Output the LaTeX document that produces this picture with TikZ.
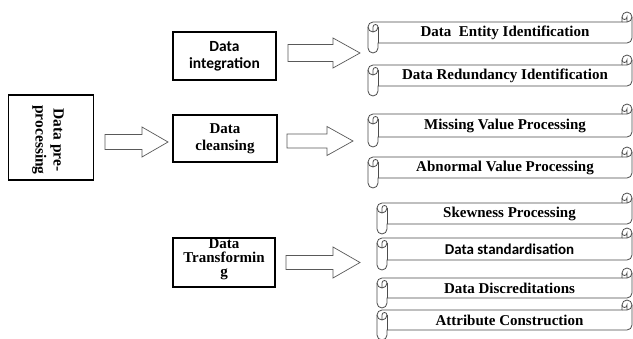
\documentclass[tikz,border=0pt]{standalone}
\usepackage{fontspec}
\setmainfont{Liberation Serif}
\newfontfamily\calib{Carlito}
\newcommand\myscroll[6]{%
\begin{scope}[shift={(#2,#3)}]
\filldraw[scrollline, fill=white] (0,15) arc[start angle=180,end angle=270,radius=5] -- (#4-10,10) -- (#4-10,5) arc[start angle=180,end angle=360,radius=5] -- (#4,#5-15) arc[start angle=0,end angle=90,radius=5] -- (10,#5-10) -- (10,#5-5) arc[start angle=0,end angle=180,radius=5] -- cycle;
\draw[scrollline] (#4-10,10) -- (#4-5,10) arc[start angle=90,end angle=0,radius=5];
\draw[scrollline] (#4-5,10) -- (#4-5,5) arc[start angle=0,end angle=180,radius=2.5];
\draw[scrollline] (5,20) -- (5,15) arc[start angle=180,end angle=360,radius=2.5] arc[start angle=0,end angle=180,radius=5];
\draw[scrollline] (10,15) -- (10,#5-10);
\node[scrolltext] (#1) at ({(10+#4)/2},{#5/2}) {#6};
\end{scope}}
\newcommand\blockarrow[6]{%
\draw[barrow] (#1,#4-#5) -- (#2,#4-#5) -- (#2,#4-#6) -- (#3,#4) -- (#2,#4+#6) -- (#2,#4+#5) -- (#1,#4+#5) -- cycle;}
\begin{document}
\begin{tikzpicture}[x=1pt,y=-1pt,
  scrollline/.style={draw=black!70, line width=0.8pt},
  scrolltext/.style={font=\bfseries\fontsize{15}{17}\selectfont, inner sep=0pt},
  barrow/.style={draw=black!65, line width=0.7pt, fill=white},
  mainbox/.style={draw=black, line width=1.8pt, fill=white, inner sep=0pt},
  boxtext/.style={font=\bfseries\fontsize{15}{17}\selectfont, align=center, inner sep=0pt}]
\useasboundingbox[fill=white] (0,0) rectangle (633,338);

% left box
\node[mainbox, minimum width=85, minimum height=85] (pre) at (51,137.5) {};
\node[boxtext, rotate=-90, font=\bfseries\fontsize{15.5}{18}\selectfont] (pretext) at (48,140) {Data pre-\\processing};

% middle boxes
\node[mainbox, minimum width=103, minimum height=48] (integ) at (224.5,56) {};
\node[boxtext, font=\calib\bfseries\fontsize{15.5}{17}\selectfont] (integtext) at (224.5,56.5) {Data\\integration};
\node[mainbox, minimum width=104, minimum height=47] (clean) at (225,138.5) {};
\node[boxtext] (cleantext) at (225,138.5) {Data\\cleansing};
\node[mainbox, minimum width=102, minimum height=49] (trans) at (224,262.5) {};
\node[boxtext, font=\bfseries\fontsize{15}{14}\selectfont] (transtext) at (224,259) {Data\\Transformin\\g};

% block arrows
\blockarrow{105}{142}{168}{142}{7.5}{15}
\blockarrow{288}{333}{360}{53}{8.5}{15}
\blockarrow{287}{327}{353}{141}{7}{14.5}
\blockarrow{286}{333}{360}{262.5}{7}{15.5}

% scrolls
\myscroll{s1}{368}{12}{264}{41}{Data\ \ Entity Identification}
\myscroll{s2}{368}{55}{264}{41}{Data Redundancy Identification}
\myscroll{s3}{368}{104}{264}{43}{Missing Value Processing}
\myscroll{s4}{368}{147}{264}{41}{Abnormal Value Processing}
\myscroll{s5}{377}{193}{255}{41}{Skewness Processing}
\myscroll{s6}{377}{228}{255}{42}{\calib Data standardisation}
\myscroll{s7}{377}{268}{255}{40}{Data Discreditations}
\myscroll{s8}{377}{300}{255}{40}{Attribute Construction}
\end{tikzpicture}
\end{document}
